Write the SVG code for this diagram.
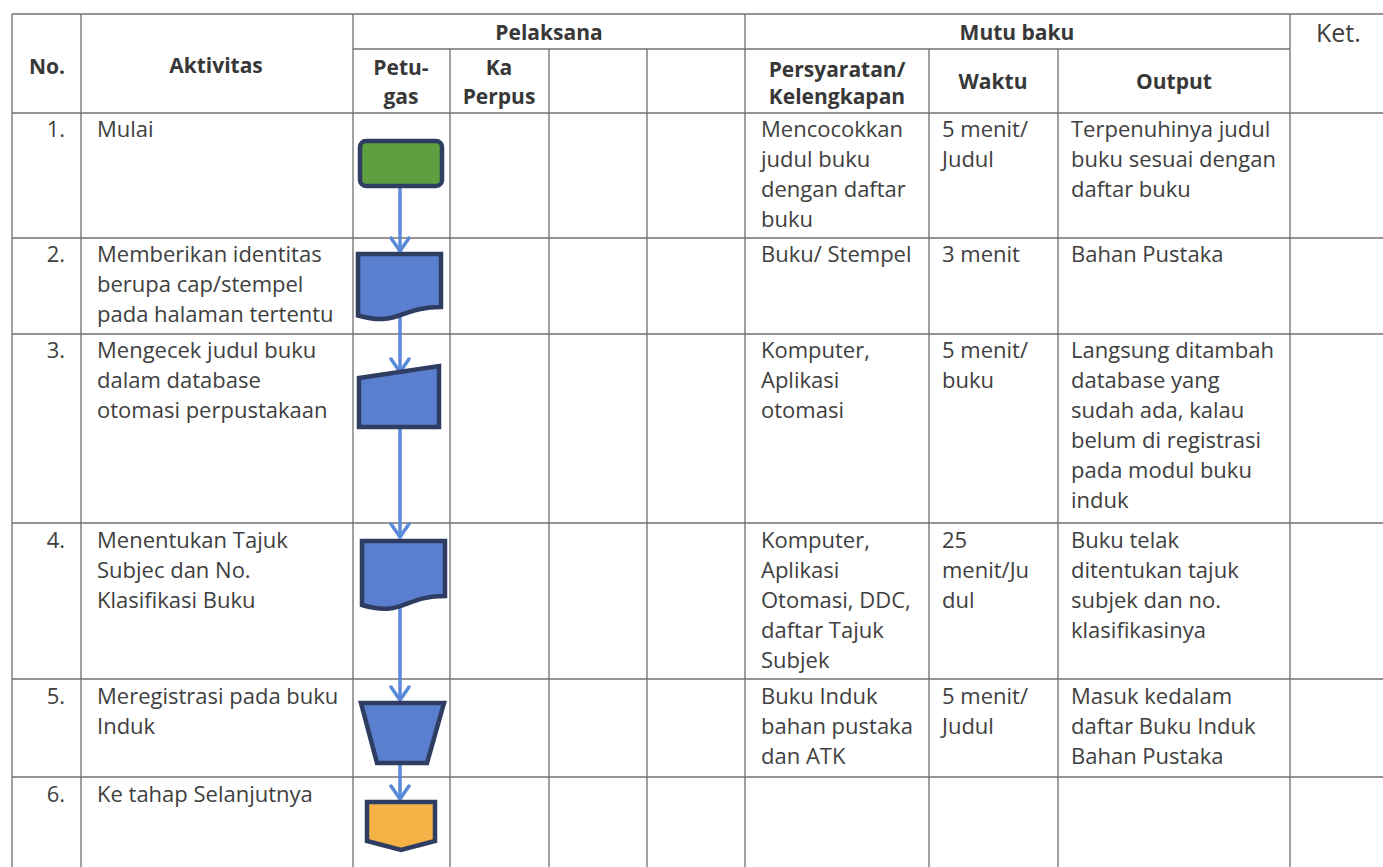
<svg xmlns="http://www.w3.org/2000/svg" width="1383" height="867" viewBox="0 0 1383 867">
<style>
.grid line{stroke:#6e6e6e;stroke-width:1.3}
.grid .h{stroke:#76706c}
text{font-family:"Open Sans","Liberation Sans",sans-serif;fill:#404040}
.b{font-size:22px}
.hd{font-size:21px;font-weight:bold;fill:#383838}
.c{text-anchor:middle}
.r{text-anchor:end}
.shape{stroke:#2f3d62;stroke-width:4.5;stroke-linejoin:miter}
.blue{fill:#5a7fcf}
.conn line{stroke:#5b8ad8;stroke-width:3.5}
</style>
<defs>
<marker id="arr" markerUnits="userSpaceOnUse" viewBox="-16 -12 19 24" markerWidth="19" markerHeight="24" refX="0" refY="0" orient="auto">
<path d="M-13,-9 L0,0 L-13,9" fill="none" stroke="#5b8ad8" stroke-width="3.5" stroke-linecap="round" stroke-linejoin="round"/>
</marker>
</defs>
<rect width="1383" height="867" fill="#ffffff"/>
<g class="grid">
<line class="h" x1="12" y1="14" x2="1383" y2="14"/>
<line class="h" x1="353" y1="49" x2="1290" y2="49"/>
<line class="h" x1="12" y1="113" x2="1383" y2="113"/>
<line class="h" x1="12" y1="238" x2="1383" y2="238"/>
<line class="h" x1="12" y1="334" x2="1383" y2="334"/>
<line class="h" x1="12" y1="523" x2="1383" y2="523"/>
<line class="h" x1="12" y1="679" x2="1383" y2="679"/>
<line class="h" x1="12" y1="777" x2="1383" y2="777"/>
<line x1="12" y1="14" x2="12" y2="867"/>
<line x1="81" y1="14" x2="81" y2="867"/>
<line x1="353" y1="14" x2="353" y2="867"/>
<line x1="450" y1="49" x2="450" y2="867"/>
<line x1="549" y1="49" x2="549" y2="867"/>
<line x1="647" y1="49" x2="647" y2="867"/>
<line x1="745" y1="14" x2="745" y2="867"/>
<line x1="929" y1="49" x2="929" y2="867"/>
<line x1="1058" y1="49" x2="1058" y2="867"/>
<line x1="1290" y1="14" x2="1290" y2="867"/>
</g>
<g id="header">
<text class="hd c" x="47" y="74">No.</text>
<text class="hd c" x="216" y="73">Aktivitas</text>
<text class="hd c" x="549" y="40">Pelaksana</text>
<text class="hd c" x="1017" y="40">Mutu baku</text>
<text class="b" x="1316" y="42" style="font-size:25px">Ket.</text>
<text class="hd c" x="401" y="75">Petu-</text>
<text class="hd c" x="401" y="104">gas</text>
<text class="hd c" x="499" y="75">Ka</text>
<text class="hd c" x="499" y="104">Perpus</text>
<text class="hd c" x="837" y="77">Persyaratan/</text>
<text class="hd c" x="837" y="104">Kelengkapan</text>
<text class="hd c" x="993" y="89">Waktu</text>
<text class="hd c" x="1174" y="89">Output</text>
</g>
<g id="row-text" class="b">
<text class="b r" x="65" y="137">1.</text>
<text class="b" x="97" y="137">Mulai</text>
<text class="b" x="761" y="137">Mencocokkan</text>
<text class="b" x="761" y="167">judul buku</text>
<text class="b" x="761" y="197">dengan daftar</text>
<text class="b" x="761" y="227">buku</text>
<text class="b" x="942" y="137">5 menit/</text>
<text class="b" x="942" y="167">Judul</text>
<text class="b" x="1071" y="137">Terpenuhinya judul</text>
<text class="b" x="1071" y="167">buku sesuai dengan</text>
<text class="b" x="1071" y="197">daftar buku</text>

<text class="b r" x="65" y="262">2.</text>
<text class="b" x="97" y="262">Memberikan identitas</text>
<text class="b" x="97" y="292">berupa cap/stempel</text>
<text class="b" x="97" y="322">pada halaman tertentu</text>
<text class="b" x="761" y="262">Buku/ Stempel</text>
<text class="b" x="942" y="262">3 menit</text>
<text class="b" x="1071" y="262">Bahan Pustaka</text>

<text class="b r" x="65" y="358">3.</text>
<text class="b" x="97" y="358">Mengecek judul buku</text>
<text class="b" x="97" y="388">dalam database</text>
<text class="b" x="97" y="418">otomasi perpustakaan</text>
<text class="b" x="761" y="358">Komputer,</text>
<text class="b" x="761" y="388">Aplikasi</text>
<text class="b" x="761" y="418">otomasi</text>
<text class="b" x="942" y="358">5 menit/</text>
<text class="b" x="942" y="388">buku</text>
<text class="b" x="1071" y="358">Langsung ditambah</text>
<text class="b" x="1071" y="388">database yang</text>
<text class="b" x="1071" y="418">sudah ada, kalau</text>
<text class="b" x="1071" y="448">belum di registrasi</text>
<text class="b" x="1071" y="478">pada modul buku</text>
<text class="b" x="1071" y="508">induk</text>

<text class="b r" x="65" y="548">4.</text>
<text class="b" x="97" y="548">Menentukan Tajuk</text>
<text class="b" x="97" y="578">Subjec dan No.</text>
<text class="b" x="97" y="608">Klasifikasi Buku</text>
<text class="b" x="761" y="548">Komputer,</text>
<text class="b" x="761" y="578">Aplikasi</text>
<text class="b" x="761" y="608">Otomasi, DDC,</text>
<text class="b" x="761" y="638">daftar Tajuk</text>
<text class="b" x="761" y="668">Subjek</text>
<text class="b" x="942" y="548">25</text>
<text class="b" x="942" y="578">menit/Ju</text>
<text class="b" x="942" y="608">dul</text>
<text class="b" x="1071" y="548">Buku telak</text>
<text class="b" x="1071" y="578">ditentukan tajuk</text>
<text class="b" x="1071" y="608">subjek dan no.</text>
<text class="b" x="1071" y="638">klasifikasinya</text>

<text class="b r" x="65" y="704">5.</text>
<text class="b" x="97" y="704">Meregistrasi pada buku</text>
<text class="b" x="97" y="734">Induk</text>
<text class="b" x="761" y="704">Buku Induk</text>
<text class="b" x="761" y="734">bahan pustaka</text>
<text class="b" x="761" y="764">dan ATK</text>
<text class="b" x="942" y="704">5 menit/</text>
<text class="b" x="942" y="734">Judul</text>
<text class="b" x="1071" y="704">Masuk kedalam</text>
<text class="b" x="1071" y="734">daftar Buku Induk</text>
<text class="b" x="1071" y="764">Bahan Pustaka</text>

<text class="b r" x="65" y="802">6.</text>
<text class="b" x="97" y="802">Ke tahap Selanjutnya</text>
</g>
<g id="connectors" class="conn">
<line x1="400" y1="188" x2="400" y2="251" marker-end="url(#arr)"/>
<line x1="400" y1="316" x2="400" y2="372" marker-end="url(#arr)"/>
<line x1="400" y1="429" x2="400" y2="537" marker-end="url(#arr)"/>
<line x1="400" y1="608" x2="400" y2="700" marker-end="url(#arr)"/>
<line x1="400" y1="765" x2="400" y2="799" marker-end="url(#arr)"/>
</g>
<g id="node-start"><rect class="shape" x="360" y="141" width="82" height="45" rx="6" fill="#5f9f3f"/></g>
<g id="node-document-1"><path class="shape blue" d="M358,254 H441 V307 C399.5,307 399.5,327 358,315.5 Z"/></g>
<g id="node-manual-input"><path class="shape blue" d="M359,378 L439,366 L439,427 L359,427 Z"/></g>
<g id="node-document-2"><path class="shape blue" d="M362,541 H445 V596 C403.5,596 403.5,617 362,605 Z"/></g>
<g id="node-manual-operation"><path class="shape blue" d="M361,703 L444,703 L427,763 L377,763 Z"/></g>
<g id="node-offpage"><path class="shape" d="M367,802 L435,802 L435,841 L401,850 L367,841 Z" fill="#f5b347"/></g>
</svg>
